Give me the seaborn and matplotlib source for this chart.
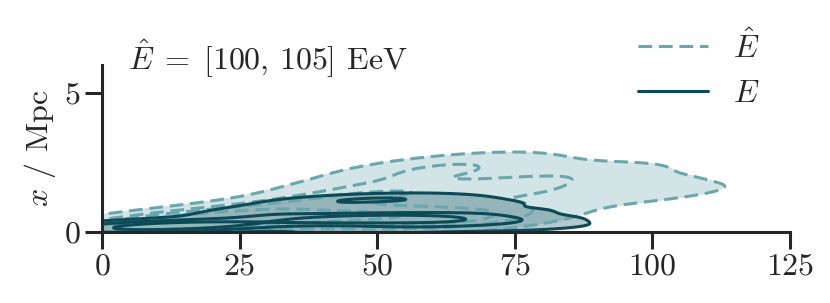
# kde contours of propagation distance vs transverse offset
import numpy as np
import pandas as pd
import seaborn as sns
import matplotlib.pyplot as plt
from matplotlib.lines import Line2D

# samples for reconstructed energy (E hat)
d_hat = [1, 4, 7, 10, 13, 16, 19, 22, 25, 28, 31, 34, 37, 40, 43, 46, 49, 52, 55, 58, 61, 64, 67, 70,
         8, 16, 24, 32, 40, 47, 54, 61, 68, 75, 82,
         45, 52, 58, 64, 70, 76, 82, 88, 95, 102]
x_hat = [0.15, 0.2, 0.2, 0.3, 0.25, 0.35, 0.35, 0.4, 0.4, 0.5, 0.45, 0.55, 0.5, 0.6, 0.5, 0.6, 0.55, 0.5, 0.6, 0.5, 0.45, 0.5, 0.4, 0.35,
         0.4, 0.55, 0.75, 0.95, 1.15, 1.3, 1.4, 1.5, 1.4, 1.3, 1.1,
         1.6, 1.9, 2.3, 2.5, 2.3, 2.1, 1.8, 2.1, 1.7, 1.4]

# samples for true energy (E)
d_true = [2, 4, 6, 8, 10, 12, 14, 16, 18, 20, 22, 24,
          28, 32, 35, 45, 60,
          38, 40, 42, 44, 46, 48, 50, 52, 54, 56, 58, 60, 62, 64, 66,
          36, 42, 48, 54, 60, 66, 71,
          75, 78]
x_true = [0.1, 0.2, 0.15, 0.25, 0.15, 0.25, 0.2, 0.3, 0.2, 0.25, 0.3, 0.2,
          0.6, 0.75, 0.5, 0.1, 0.15,
          0.4, 0.5, 0.4, 0.45, 0.5, 0.45, 0.55, 0.5, 0.45, 0.5, 0.4, 0.45, 0.45, 0.4, 0.35,
          0.9, 1.1, 1.2, 1.2, 1.1, 0.95, 0.7,
          0.4, 0.2]

x_ticks = [0, 25, 50, 75, 100, 125]
y_ticks = [0, 5]

c_hat = '#6aa6ad'
c_true = '#0d4a58'

sns.set_theme(style='ticks')
plt.rcParams['font.family'] = ['cmr10', 'DejaVu Serif']
plt.rcParams['mathtext.fontset'] = 'cm'
plt.rcParams['axes.formatter.use_mathtext'] = True

fig = plt.figure(figsize=(8.3, 3.03), dpi=100)
ax = fig.add_axes([0.1229, 0.2343, 0.8289, 0.5512])

dash = (0, (4.5, 2.2))
bw_hat = 0.85
bw_true = 0.8
sns.kdeplot(x=d_hat, y=x_hat, fill=True, levels=[0.05, 1], bw_adjust=bw_hat,
            color=c_hat, colors=[c_hat], alpha=0.3, ax=ax)
sns.kdeplot(x=d_hat, y=x_hat, levels=5, bw_adjust=bw_hat, color=c_hat,
            linestyles=[dash], linewidths=2.2, ax=ax)
sns.kdeplot(x=d_true, y=x_true, fill=True, levels=[0.05, 1], bw_adjust=bw_true,
            color=c_true, colors=[c_true], alpha=0.3, ax=ax)
sns.kdeplot(x=d_true, y=x_true, levels=4, bw_adjust=bw_true, color=c_true, linewidths=2.2, ax=ax)

ax.set_xlim(0, 125)
ax.set_ylim(0, 6)
ax.set_xticks(x_ticks)
ax.set_yticks(y_ticks)
ax.tick_params(length=12, width=2.2, labelsize=23, colors='#262626')
for s in ['left', 'bottom']:
    ax.spines[s].set_linewidth(2.2)
    ax.spines[s].set_color('#262626')
sns.despine(ax=ax)
ax.set_xlabel('')
ax.set_ylabel(r'$x$ / Mpc', fontsize=23)

ax.text(0.038, 0.97, r'$\hat{E}\;=\;[100,\,105]$ EeV', transform=ax.transAxes, fontsize=23, va='baseline')

handles = [Line2D([], [], color=c_hat, lw=2.2, linestyle=dash),
           Line2D([], [], color=c_true, lw=2.2)]
fig.legend(handles, [r'$\hat{E}$', r'$E$'], loc='upper right', bbox_to_anchor=(0.95, 1.0),
           frameon=False, fontsize=23, handlelength=2.2)

fig.savefig('out.png', dpi=100)
